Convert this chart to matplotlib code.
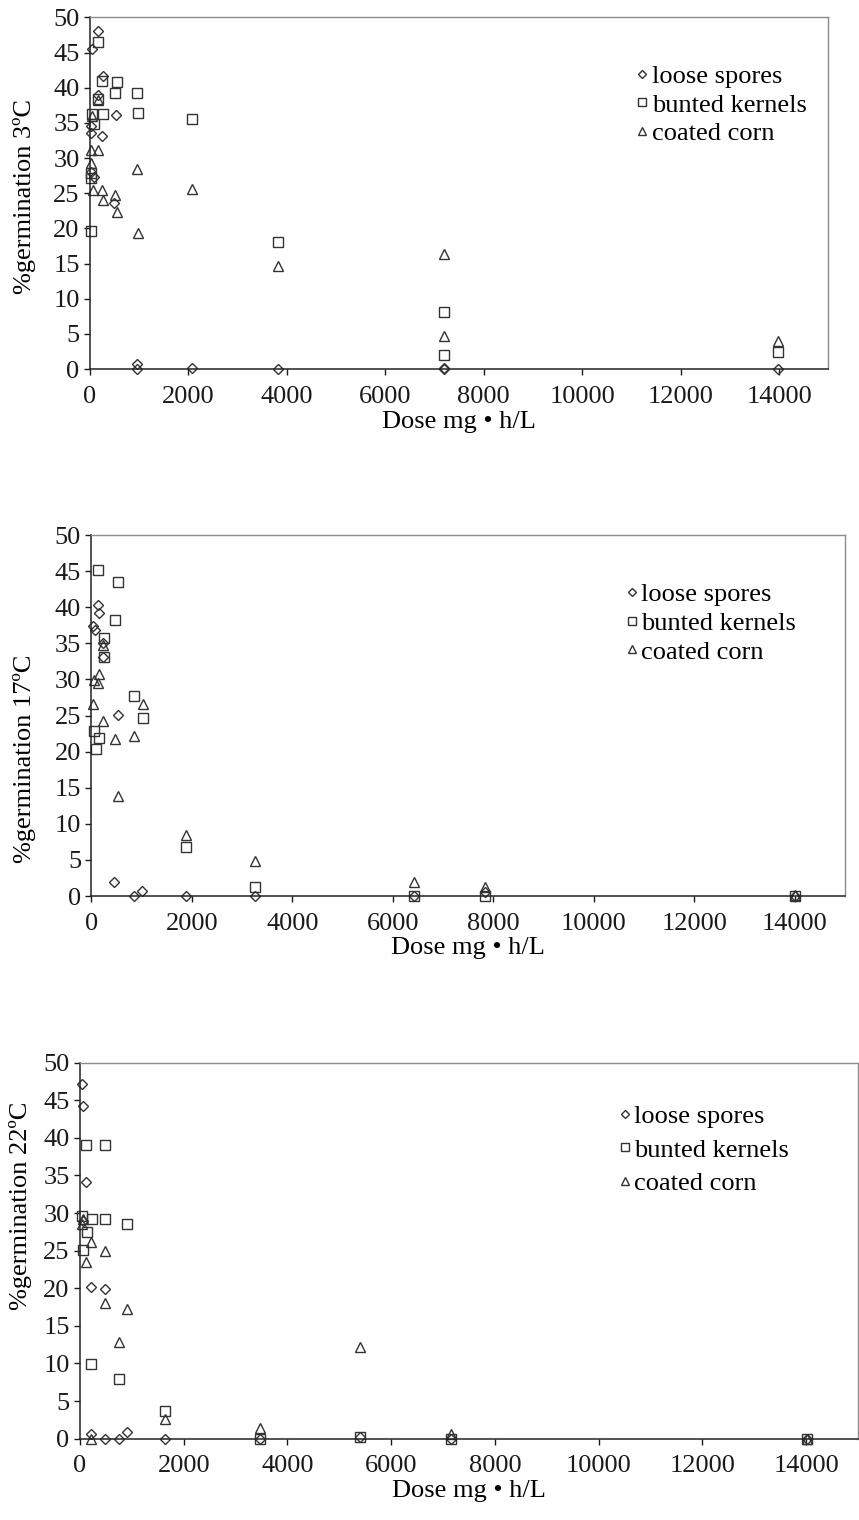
import matplotlib
matplotlib.use("Agg")
import matplotlib.pyplot as plt

plt.rcParams['font.family'] = ['Liberation Serif', 'DejaVu Serif']

# ---- data: (dose, % germination) ----
# 3 C
spores_3_x = [160, 45, 270, 170, 527, 20, 20, 250, 30, 90, 492, 958, 950, 2080, 3815, 7195, 7195, 13980]
spores_3_y = [48.0, 45.5, 41.6, 39.0, 36.1, 34.5, 33.6, 33.1, 28.0, 27.3, 23.6, 0.7, 0.0, 0.2, 0.0, 0.0, 0.1, 0.0]
kernels_3_x = [160, 250, 540, 500, 958, 170, 40, 270, 979, 75, 2081, 20, 20, 30, 3815, 7195, 7195, 13980]
kernels_3_y = [46.5, 40.9, 40.8, 39.2, 39.2, 38.4, 36.3, 36.2, 36.4, 34.8, 35.5, 27.8, 27.1, 19.6, 18.1, 8.1, 2.0, 2.4]
corn_3_x = [20, 170, 20, 170, 40, 60, 250, 270, 500, 540, 958, 979, 2081, 3815, 7195, 7195, 13980]
corn_3_y = [31.2, 31.1, 29.3, 38.2, 36.0, 25.4, 25.5, 24.1, 24.7, 22.3, 28.5, 19.3, 25.6, 14.7, 16.4, 4.7, 4.0]

# 17 C
spores_17_x = [123, 155, 36, 70, 235, 235, 521, 453, 845, 1010, 1879, 3264, 6430, 7840, 14000]
spores_17_y = [40.3, 39.2, 37.4, 36.8, 35.0, 33.1, 25.1, 1.9, 0.0, 0.7, 0.0, 0.0, 0.0, 0.5, 0.0]
kernels_17_x = [135, 521, 467, 249, 249, 851, 1018, 50, 155, 83, 1879, 3264, 6430, 7840, 14000]
kernels_17_y = [45.2, 43.5, 38.2, 35.8, 33.1, 27.7, 24.7, 22.8, 21.9, 20.4, 6.8, 1.3, 0.0, 0.0, 0.0]
corn_17_x = [235, 155, 56, 135, 36, 235, 467, 851, 1018, 521, 1879, 3264, 6430, 7840, 14000]
corn_17_y = [34.8, 30.8, 29.9, 29.5, 26.6, 24.2, 21.7, 22.2, 26.6, 13.9, 8.4, 4.8, 2.0, 1.3, 0.2]

# 22 C
spores_22_x = [33, 64, 110, 64, 212, 482, 212, 482, 752, 912, 1640, 3472, 5390, 7148, 14010]
spores_22_y = [47.1, 44.3, 34.1, 29.0, 20.2, 19.9, 0.6, 0.0, 0.0, 0.9, 0.0, 0.0, 0.2, 0.0, 0.0]
kernels_22_x = [110, 482, 33, 226, 482, 912, 129, 64, 212, 752, 1640, 3472, 5390, 7148, 14010]
kernels_22_y = [39.0, 39.0, 29.6, 29.2, 29.2, 28.5, 27.5, 25.1, 9.9, 7.9, 3.7, 0.0, 0.2, 0.0, 0.0]
corn_22_x = [64, 33, 212, 110, 482, 482, 912, 752, 1640, 212, 3472, 5390, 7148, 14010]
corn_22_y = [29.2, 28.6, 26.1, 23.5, 25.0, 18.0, 17.2, 12.8, 2.6, 0.0, 1.4, 12.2, 0.6, 0.0]

series_names = ["loose spores", "bunted kernels", "coated corn"]
temps = ["3", "17", "22"]
x_ticks = list(range(0, 14001, 2000))
y_ticks = list(range(0, 51, 5))

panels = [
    ((spores_3_x, spores_3_y), (kernels_3_x, kernels_3_y), (corn_3_x, corn_3_y)),
    ((spores_17_x, spores_17_y), (kernels_17_x, kernels_17_y), (corn_17_x, corn_17_y)),
    ((spores_22_x, spores_22_y), (kernels_22_x, kernels_22_y), (corn_22_x, corn_22_y)),
]

# axes rectangles (fig fraction), legend anchors and y label spots (axes fraction)
rects = [[0.1048, 0.7572, 0.8595, 0.2314],
         [0.1065, 0.4105, 0.8772, 0.2375],
         [0.0931, 0.0535, 0.9057, 0.2474]]
leg_anchor = [(0.741, 0.866), (0.71, 0.868), (0.694, 0.888)]
leg_spacing = [0.2, 0.2, 0.38]
ylab_pos = [(-0.073, 0.49), (-0.074, 0.38), (-0.062, 0.62)]

markers = ['D', 's', '^']
msizes = [5.0, 7.0, 7.0]
edge = '#333333'

fig = plt.figure(figsize=(8.59, 15.2), dpi=100)

for i, series in enumerate(panels):
    ax = fig.add_axes(rects[i])
    for (xs, ys), m, ms, name in zip(series, markers, msizes, series_names):
        ax.plot(xs, ys, linestyle='none', marker=m, ms=ms, mfc='none', mec=edge,
                mew=1.0, clip_on=False, label=name)

    ax.set_xlim(0, 15000)
    ax.set_ylim(0, 50)
    ax.set_xticks(x_ticks)
    ax.set_yticks(y_ticks)
    ax.tick_params(direction='out', length=4.5, width=1, labelsize=19, colors='#1a1a1a')
    ax.tick_params(axis='x', pad=7.5)
    ax.tick_params(axis='y', pad=3)

    for s in ['left', 'bottom']:
        ax.spines[s].set_color('#222222')
        ax.spines[s].set_linewidth(1.1)
    for s in ['top', 'right']:
        ax.spines[s].set_color('#8c8c8c')
        ax.spines[s].set_linewidth(1.0)

    ax.set_xlabel("Dose mg \u2022 h/L", fontsize=19, labelpad=2)
    ax.set_ylabel("%germination " + temps[i] + "\u00baC", fontsize=19)
    ax.yaxis.set_label_coords(*ylab_pos[i])

    ax.legend(loc='upper left', bbox_to_anchor=leg_anchor[i], frameon=False,
              fontsize=19, markerscale=0.8, handlelength=0.4, handletextpad=0.15,
              labelspacing=leg_spacing[i], borderpad=0, borderaxespad=0)

fig.savefig("out.png", dpi=100)
